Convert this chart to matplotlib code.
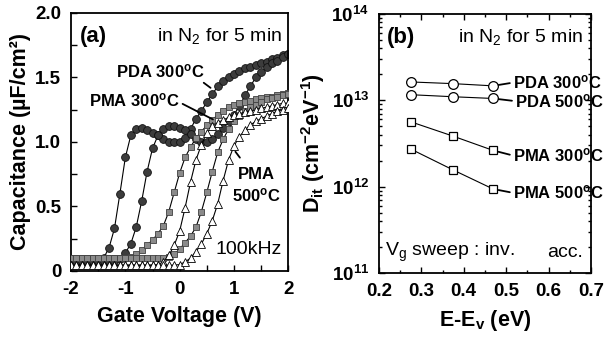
import numpy as np
import matplotlib
matplotlib.use("Agg")
import matplotlib.pyplot as plt
from matplotlib.ticker import MultipleLocator, LogLocator, NullFormatter

plt.rcParams['font.family'] = ['Liberation Sans', 'DejaVu Sans']
plt.rcParams['mathtext.fontset'] = 'custom'
plt.rcParams['mathtext.rm'] = 'Liberation Sans'
plt.rcParams['mathtext.bf'] = 'Liberation Sans:bold'
plt.rcParams['mathtext.it'] = 'Liberation Sans:italic'
plt.rcParams['mathtext.default'] = 'regular'

# ---- panel (a): C-V sweeps, 0.1 V step ----
gate_v = np.round(np.linspace(-2.0, 2.0, 41), 1)

pda300_fwd = [0.08, 0.08, 0.08, 0.08, 0.08, 0.08, 0.10, 0.18, 0.33, 0.60,
              0.88, 1.05, 1.10, 1.11, 1.09, 1.07, 1.05, 1.02, 1.00, 1.00,
              1.00, 1.03, 1.10, 1.18, 1.24, 1.31, 1.37, 1.43, 1.47, 1.50,
              1.53, 1.55, 1.57, 1.58, 1.60, 1.61, 1.62, 1.64, 1.65, 1.67, 1.68]
pda300_rev = [0.08, 0.08, 0.08, 0.08, 0.08, 0.08, 0.08, 0.08, 0.08, 0.09,
              0.14, 0.21, 0.34, 0.54, 0.77, 0.95, 1.05, 1.10, 1.12, 1.12,
              1.11, 1.09, 1.06, 1.02, 1.00, 1.00, 1.02, 1.06, 1.11, 1.16,
              1.21, 1.28, 1.36, 1.43, 1.50, 1.54, 1.58, 1.61, 1.63, 1.66, 1.68]
pma300_fwd = [0.10, 0.10, 0.10, 0.10, 0.10, 0.10, 0.10, 0.10, 0.10, 0.10,
              0.10, 0.11, 0.13, 0.16, 0.20, 0.24, 0.29, 0.35, 0.46, 0.61,
              0.76, 0.88, 0.96, 1.03, 1.08, 1.13, 1.17, 1.21, 1.24, 1.27,
              1.29, 1.30, 1.31, 1.32, 1.33, 1.34, 1.35, 1.35, 1.36, 1.37, 1.38]
pma300_rev = [0.10, 0.10, 0.10, 0.10, 0.10, 0.10, 0.10, 0.10, 0.10, 0.10,
              0.10, 0.10, 0.10, 0.10, 0.10, 0.10, 0.10, 0.10, 0.11, 0.13,
              0.17, 0.22, 0.27, 0.34, 0.46, 0.61, 0.77, 0.92, 1.02, 1.10,
              1.16, 1.20, 1.24, 1.27, 1.29, 1.31, 1.33, 1.34, 1.35, 1.36, 1.37]
pma500_fwd = [0.045, 0.045, 0.045, 0.045, 0.045, 0.045, 0.045, 0.045, 0.045, 0.045,
              0.045, 0.045, 0.045, 0.045, 0.045, 0.045, 0.05, 0.07, 0.12, 0.20,
              0.31, 0.49, 0.69, 0.86, 0.98, 1.07, 1.12, 1.15, 1.17, 1.19,
              1.21, 1.22, 1.23, 1.24, 1.25, 1.26, 1.27, 1.28, 1.29, 1.30, 1.30]
pma500_rev = [0.045, 0.045, 0.045, 0.045, 0.045, 0.045, 0.045, 0.045, 0.045, 0.045,
              0.045, 0.045, 0.045, 0.045, 0.045, 0.045, 0.045, 0.045, 0.045, 0.045,
              0.05, 0.07, 0.10, 0.15, 0.21, 0.29, 0.39, 0.52, 0.70, 0.86,
              0.97, 1.04, 1.09, 1.13, 1.16, 1.18, 1.20, 1.22, 1.24, 1.25, 1.26]

# ---- panel (b): Dit vs energy ----
energy = [0.277, 0.374, 0.469]
dit_pda300 = [1.63e13, 1.56e13, 1.47e13]
dit_pda500 = [1.16e13, 1.10e13, 1.05e13]
dit_pma300 = [5.6e12, 3.86e12, 2.63e12]
dit_pma500 = [2.7e12, 1.57e12, 0.94e12]

fig = plt.figure(figsize=(6.07, 3.4), dpi=100)
ax1 = fig.add_axes([0.117, 0.203, 0.358, 0.759])
ax2 = fig.add_axes([0.624, 0.197, 0.350, 0.762])

# C-V curves
for c in (pda300_fwd, pda300_rev):
    ax1.plot(gate_v, c, '-o', color='black', lw=0.8, ms=5.6,
             mfc='#3c3c3c', mec='#111111', mew=0.6, zorder=2)
for c in (pma300_fwd, pma300_rev):
    ax1.plot(gate_v, c, '-s', color='black', lw=0.8, ms=4.6,
             mfc='#8a8a8a', mec='#404040', mew=0.6, zorder=3)
for c in (pma500_fwd, pma500_rev):
    ax1.plot(gate_v, c, '-^', color='black', lw=0.8, ms=5.4,
             mfc='white', mec='black', mew=0.6, zorder=4)

ax1.set_xlim(-2, 2)
ax1.set_ylim(0, 2.0)
ax1.set_xticks([-2, -1, 0, 1, 2])
ax1.set_xticklabels(['-2', '-1', '0', '1', '2'])
ax1.xaxis.set_minor_locator(MultipleLocator(0.5))
ax1.set_yticks([0, 0.5, 1.0, 1.5, 2.0])
ax1.set_yticklabels(['0', '0.5', '1.0', '1.5', '2.0'])
ax1.yaxis.set_minor_locator(MultipleLocator(0.25))
ax1.set_xlabel('Gate Voltage (V)', fontsize=15.5, fontweight='bold', labelpad=6)
ax1.set_ylabel('Capacitance (µF/cm²)', fontsize=15.5, fontweight='bold', labelpad=3)

ax1.text(0.04, 0.91, '(a)', transform=ax1.transAxes, fontsize=16,
         fontweight='bold', va='center', ha='left')
ax1.text(0.97, 0.91, 'in N$_2$ for 5 min', transform=ax1.transAxes,
         fontsize=14, va='center', ha='right')
ax1.text(0.97, 0.05, '100kHz', transform=ax1.transAxes, fontsize=14,
         va='bottom', ha='right')

lead = dict(arrowstyle='-', color='black', lw=1.3, shrinkA=0, shrinkB=3)
ax1.annotate(r'PDA 300$^{\mathbf{o}}$C', xy=(0.63, 1.40), xytext=(-0.36, 1.55),
             fontsize=12, fontweight='bold', ha='center', va='center',
             arrowprops=dict(lead, relpos=(0.95, 0.0)))
ax1.annotate(r'PMA 300$^{\mathbf{o}}$C', xy=(0.68, 1.16), xytext=(-0.83, 1.32),
             fontsize=12, fontweight='bold', ha='center', va='center',
             arrowprops=dict(lead, relpos=(1.0, 0.4)))
ax1.annotate('PMA\n' + r'500$^{\mathbf{o}}$C', xy=(0.98, 0.95), xytext=(1.42, 0.66),
             fontsize=12, fontweight='bold', ha='center', va='center',
             linespacing=1.3,
             arrowprops=dict(lead, relpos=(0.3, 1.0), shrinkA=6))

# Dit panel
ax2.set_yscale('log')
ax2.plot(energy, dit_pda300, '-o', color='black', lw=0.8, ms=7,
         mfc='white', mec='black', mew=0.9)
ax2.plot(energy, dit_pda500, '-o', color='black', lw=0.8, ms=7,
         mfc='white', mec='black', mew=0.9)
ax2.plot(energy, dit_pma300, '-s', color='black', lw=0.8, ms=6,
         mfc='white', mec='black', mew=0.9)
ax2.plot(energy, dit_pma500, '-s', color='black', lw=0.8, ms=6,
         mfc='white', mec='black', mew=0.9)

ax2.set_xlim(0.2, 0.7)
ax2.set_ylim(1e11, 1e14)
ax2.set_xticks([0.2, 0.3, 0.4, 0.5, 0.6, 0.7])
ax2.set_xticklabels(['0.2', '0.3', '0.4', '0.5', '0.6', '0.7'])
ax2.xaxis.set_minor_locator(MultipleLocator(0.05))
ax2.set_yticks([1e11, 1e12, 1e13, 1e14])
ax2.set_yticklabels([r'$\mathbf{10^{11}}$', r'$\mathbf{10^{12}}$',
                     r'$\mathbf{10^{13}}$', r'$\mathbf{10^{14}}$'])
ax2.yaxis.set_minor_locator(LogLocator(base=10, subs=np.arange(2, 10)))
ax2.yaxis.set_minor_formatter(NullFormatter())
ax2.set_xlabel(r'E-E$_{\mathbf{v}}$ (eV)', fontsize=15.5, fontweight='bold', labelpad=6)
ax2.set_ylabel(r'D$_{\mathbf{it}}$ (cm$^{\mathbf{-2}}$eV$^{\mathbf{-1}}$)',
               fontsize=15.5, fontweight='bold', labelpad=3)

ax2.text(0.04, 0.91, '(b)', transform=ax2.transAxes, fontsize=16,
         fontweight='bold', va='center', ha='left')
ax2.text(0.96, 0.91, 'in N$_2$ for 5 min', transform=ax2.transAxes,
         fontsize=14, va='center', ha='right')
ax2.text(0.03, 0.08, 'V$_g$ sweep : inv.', transform=ax2.transAxes,
         fontsize=14, va='center', ha='left')
ax2.text(0.96, 0.08, 'acc.', transform=ax2.transAxes,
         fontsize=14, va='center', ha='right')

lead2 = dict(arrowstyle='-', color='black', lw=1.3, shrinkA=0, shrinkB=4,
             relpos=(0.0, 0.5))
ax2.annotate(r'PDA 300$^{\mathbf{o}}$C', xy=(energy[2], dit_pda300[2]),
             xytext=(0.515, 1.6e13), fontsize=12, fontweight='bold',
             ha='left', va='center', arrowprops=lead2, annotation_clip=False)
ax2.annotate(r'PDA 500$^{\mathbf{o}}$C', xy=(energy[2], dit_pda500[2]),
             xytext=(0.52, 0.98e13), fontsize=12, fontweight='bold',
             ha='left', va='center', arrowprops=lead2, annotation_clip=False)
ax2.annotate(r'PMA 300$^{\mathbf{o}}$C', xy=(energy[2], dit_pma300[2]),
             xytext=(0.515, 2.3e12), fontsize=12, fontweight='bold',
             ha='left', va='center', arrowprops=lead2, annotation_clip=False)
ax2.annotate(r'PMA 500$^{\mathbf{o}}$C', xy=(energy[2], dit_pma500[2]),
             xytext=(0.515, 0.85e12), fontsize=12, fontweight='bold',
             ha='left', va='center', arrowprops=lead2, annotation_clip=False)

for ax in (ax1, ax2):
    for s in ax.spines.values():
        s.set_linewidth(1.3)
    ax.tick_params(which='both', direction='in', labelsize=13.5, width=1.0)
    ax.tick_params(which='major', length=4, pad=7)
    ax.tick_params(which='minor', length=4 if ax is ax1 else 2.5)
    for lab in ax.get_xticklabels() + ax.get_yticklabels():
        lab.set_fontweight('bold')

ax2.tick_params(which='both', top=True, right=True)

fig.savefig('out.png', dpi=100)
